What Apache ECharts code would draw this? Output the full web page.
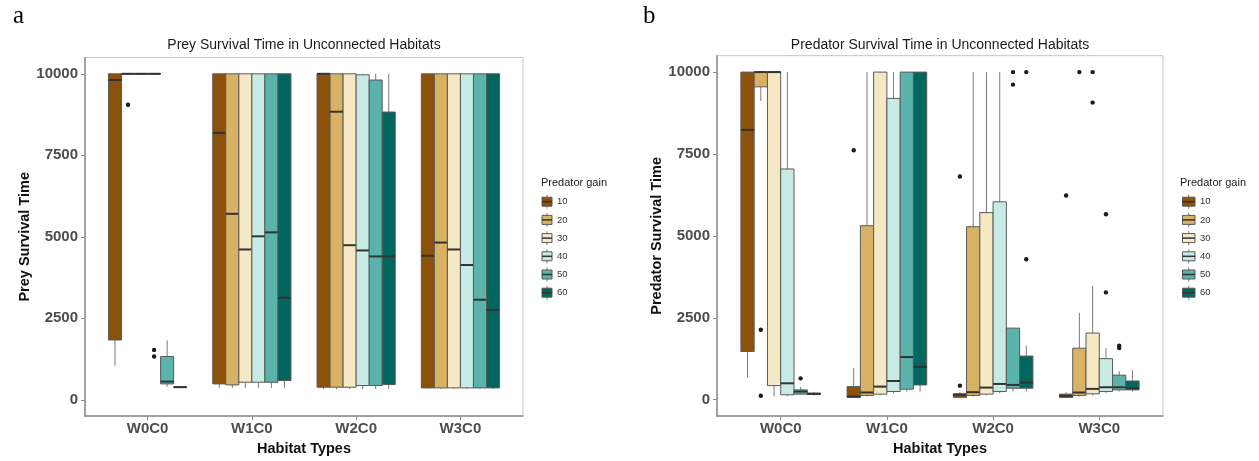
<!DOCTYPE html>
<html>
<head>
<meta charset="utf-8">
<script src="https://cdn.jsdelivr.net/npm/echarts@6/dist/echarts.min.js"></script>
<style>
  html, body { margin: 0; padding: 0; background: #fff; }
  #chart { width: 1259px; height: 461px; }
</style>
</head>
<body>
<div id="chart"></div>
<script>
// Habitat categories and predator-gain groups
const habitats = ['W0C0', 'W1C0', 'W2C0', 'W3C0'];
const gains = ['10', '20', '30', '40', '50', '60'];
const gainColors = ['#8c510a', '#d8b365', '#f6e8c3', '#c7eae5', '#5ab4ac', '#01665e'];
const yTicks = [0, 2500, 5000, 7500, 10000];

// Box statistics, one row per predator gain: [min, q1, median, q3, max]
const preyW0C0 = [
  [1045, 1835, 9809, 10000, 10000],
  [10000, 10000, 10000, 10000, 10000],
  [10000, 10000, 10000, 10000, 10000],
  [10000, 10000, 10000, 10000, 10000],
  [407, 487, 559, 1328, 1824],
  [370, 384, 388, 392, 400]
];
const preyW1C0 = [
  [365, 487, 8188, 10000, 10000],
  [365, 456, 5705, 10000, 10000],
  [365, 538, 4611, 10000, 10000],
  [365, 538, 5015, 10000, 10000],
  [365, 538, 5137, 10000, 10000],
  [365, 590, 3131, 10000, 10000]
];
const preyW2C0 = [
  [330, 386, 10000, 10000, 10000],
  [330, 386, 8836, 10000, 10000],
  [330, 386, 4742, 10000, 10000],
  [330, 437, 4581, 9970, 10000],
  [330, 437, 4398, 9809, 10000],
  [330, 467, 4398, 8827, 10000]
];
const preyW3C0 = [
  [335, 365, 4419, 10000, 10000],
  [335, 365, 4824, 10000, 10000],
  [335, 365, 4611, 10000, 10000],
  [335, 365, 4134, 10000, 10000],
  [335, 365, 3070, 10000, 10000],
  [335, 365, 2757, 10000, 10000]
];
// Outliers: [habitat index, gain index, value]
const preyOutliers = [
  [0, 1, 9050], [0, 3, 1530], [0, 3, 1330]
];

const predW0C0 = [
  [682, 1473, 8236, 10000, 10000],
  [9117, 9549, 10000, 10000, 10000],
  [100, 430, 10000, 10000, 10000],
  [110, 150, 501, 7043, 10000],
  [150, 170, 250, 300, 390],
  [130, 160, 180, 200, 230]
];
const predW1C0 = [
  [60, 70, 100, 400, 972],
  [100, 130, 220, 5310, 10000],
  [130, 170, 400, 10000, 10000],
  [200, 250, 571, 9197, 10000],
  [250, 321, 1302, 10000, 10000],
  [250, 451, 1001, 10000, 10000]
];
const predW2C0 = [
  [60, 70, 150, 180, 230],
  [100, 130, 230, 5280, 10000],
  [130, 170, 370, 5711, 10000],
  [200, 250, 481, 6041, 10000],
  [250, 351, 451, 2185, 2200],
  [250, 351, 521, 1332, 1653]
];
const predW3C0 = [
  [60, 70, 120, 170, 230],
  [100, 130, 220, 1573, 2655],
  [130, 180, 331, 2034, 3477],
  [200, 250, 381, 1253, 1573],
  [250, 300, 381, 751, 872],
  [250, 300, 351, 571, 902]
];
const predOutliers = [
  [0, 1, 2134], [0, 1, 120], [0, 4, 652],
  [1, 0, 7615],
  [2, 0, 6813], [2, 0, 430], [2, 4, 10000], [2, 4, 9618], [2, 5, 10000], [2, 5, 4289],
  [3, 0, 6232], [3, 1, 10000], [3, 2, 10000], [3, 2, 9068], [3, 3, 5660], [3, 3, 3276],
  [3, 4, 1650], [3, 4, 1580]
];

// Flatten per-habitat stats into rows: [habitat, gain, min, q1, median, q3, max]
function boxRows(perHabitat) {
  const rows = [];
  perHabitat.forEach((stats, h) => stats.forEach((s, g) => rows.push([h, g].concat(s))));
  return rows;
}
const preyRows = boxRows([preyW0C0, preyW1C0, preyW2C0, preyW3C0]);
const predRows = boxRows([predW0C0, predW1C0, predW2C0, predW3C0]);

const DODGE = 0.75; // total width of the dodged group, in category units

function slotGeom(api, h, g) {
  const unit = api.size([1, 0])[0];
  const slot = unit * DODGE / gains.length;
  const left = api.coord([h, 0])[0] - unit * DODGE / 2 + slot * g;
  return { left: left, slot: slot, cx: left + slot / 2 };
}

function renderBox(params, api) {
  const h = api.value(0), g = api.value(1);
  const s = slotGeom(api, h, g);
  const y = k => api.coord([h, api.value(k)])[1];
  const yMin = y(2), yQ1 = y(3), yMed = y(4), yQ3 = y(5), yMax = y(6);
  return {
    type: 'group',
    children: [
      { type: 'line', shape: { x1: s.cx, y1: yQ3, x2: s.cx, y2: yMax }, style: { stroke: '#7a7a7a', lineWidth: 1 } },
      { type: 'line', shape: { x1: s.cx, y1: yQ1, x2: s.cx, y2: yMin }, style: { stroke: '#7a7a7a', lineWidth: 1 } },
      { type: 'rect', shape: { x: s.left, y: yQ3, width: s.slot, height: yQ1 - yQ3 },
        style: { fill: gainColors[g], stroke: '#5a5a5a', lineWidth: 1 } },
      { type: 'line', shape: { x1: s.left, y1: yMed, x2: s.left + s.slot, y2: yMed },
        style: { stroke: '#333', lineWidth: 2 } }
    ]
  };
}

function renderOutlier(params, api) {
  const h = api.value(0), g = api.value(1);
  const s = slotGeom(api, h, g);
  const p = api.coord([h, api.value(2)]);
  return { type: 'circle', shape: { cx: s.cx, cy: p[1], r: 2.2 }, style: { fill: '#1a1a1a' } };
}

const tickLabel = { fontFamily: 'Liberation Sans, Arial, sans-serif', fontWeight: 'bold', fontSize: 15, color: '#4d4d4d' };
const axisNameStyle = { fontFamily: 'Liberation Sans, Arial, sans-serif', fontWeight: 'bold', fontSize: 14.5, color: '#111' };

function xAxisFor(gridIndex) {
  return {
    gridIndex: gridIndex, type: 'value', min: -0.6, max: 3.6,
    name: 'Habitat Types', nameLocation: 'middle', nameGap: 22, nameTextStyle: axisNameStyle,
    axisLine: { show: true, onZero: false, lineStyle: { color: '#8c8c8c', width: 1.5 } },
    axisTick: { show: true, length: 4, customValues: [0, 1, 2, 3], lineStyle: { color: '#8c8c8c' } },
    axisLabel: Object.assign({ customValues: [0, 1, 2, 3], margin: 5, formatter: v => habitats[Math.round(v)] }, tickLabel),
    splitLine: { show: false }
  };
}
function yAxisFor(gridIndex, name, gap) {
  return {
    gridIndex: gridIndex, type: 'value', min: -500, max: 10500,
    name: name, nameLocation: 'middle', nameGap: gap, nameTextStyle: axisNameStyle,
    axisLine: { show: true, onZero: false, lineStyle: { color: '#8c8c8c', width: 1.5 } },
    axisTick: { show: true, length: 4, customValues: yTicks, lineStyle: { color: '#8c8c8c' } },
    axisLabel: Object.assign({ customValues: yTicks, margin: 7, formatter: v => String(v) }, tickLabel),
    splitLine: { show: false }
  };
}

// Legend keys drawn as small boxplot glyphs
function legendGraphics(x0, boxW, titleX) {
  const items = [{
    type: 'text', left: titleX, top: 177,
    style: { text: 'Predator gain', fontFamily: 'Liberation Sans, Arial, sans-serif', fontSize: 11, fill: '#1a1a1a' }
  }];
  gains.forEach((gLabel, i) => {
    const cy = 201.7 + i * 18.2;
    const cx = x0 + boxW / 2;
    items.push({ type: 'line', shape: { x1: cx, y1: cy - 7, x2: cx, y2: cy + 7 }, style: { stroke: '#7a7a7a', lineWidth: 1 } });
    items.push({ type: 'rect', shape: { x: x0, y: cy - 4.5, width: boxW, height: 9 }, style: { fill: gainColors[i], stroke: '#5a5a5a', lineWidth: 1 } });
    items.push({ type: 'line', shape: { x1: x0, y1: cy, x2: x0 + boxW, y2: cy }, style: { stroke: '#333', lineWidth: 1.5 } });
    items.push({ type: 'text', x: x0 + boxW + 5, y: cy, style: { text: gLabel, fontFamily: 'Liberation Sans, Arial, sans-serif', fontSize: 9.5, fill: '#333', verticalAlign: 'middle' } });
  });
  return items;
}

const chart = echarts.init(document.getElementById('chart'), null, { renderer: 'canvas' });
chart.setOption({
  animation: false,
  backgroundColor: '#fff',
  grid: [
    { left: 85, top: 57.5, width: 438, height: 362, show: true, borderColor: '#c4c4c4', borderWidth: 1, backgroundColor: '#fff' },
    { left: 717, top: 55.7, width: 446, height: 366, show: true, borderColor: '#c4c4c4', borderWidth: 1, backgroundColor: '#fff' }
  ],
  xAxis: [xAxisFor(0), xAxisFor(1)],
  yAxis: [yAxisFor(0, 'Prey Survival Time', 40), yAxisFor(1, 'Predator Survival Time', 52)],
  series: [
    { type: 'custom', xAxisIndex: 0, yAxisIndex: 0, renderItem: renderBox, data: preyRows, encode: { x: 0, y: [2, 3, 4, 5, 6] } },
    { type: 'custom', xAxisIndex: 0, yAxisIndex: 0, renderItem: renderOutlier, data: preyOutliers, encode: { x: 0, y: 2 } },
    { type: 'custom', xAxisIndex: 1, yAxisIndex: 1, renderItem: renderBox, data: predRows, encode: { x: 0, y: [2, 3, 4, 5, 6] } },
    { type: 'custom', xAxisIndex: 1, yAxisIndex: 1, renderItem: renderOutlier, data: predOutliers, encode: { x: 0, y: 2 } }
  ],
  graphic: [
    { type: 'text', left: 13, top: 4, style: { text: 'a', fontFamily: 'Liberation Serif, Times New Roman, serif', fontSize: 25, fill: '#000' } },
    { type: 'text', left: 643, top: 4, style: { text: 'b', fontFamily: 'Liberation Serif, Times New Roman, serif', fontSize: 25, fill: '#000' } },
    { type: 'text', x: 304, y: 45, style: { text: 'Prey Survival Time in Unconnected Habitats', fontFamily: 'Liberation Sans, Arial, sans-serif', fontSize: 14, fill: '#1a1a1a', align: 'center', verticalAlign: 'middle' } },
    { type: 'text', x: 940, y: 45, style: { text: 'Predator Survival Time in Unconnected Habitats', fontFamily: 'Liberation Sans, Arial, sans-serif', fontSize: 14, fill: '#1a1a1a', align: 'center', verticalAlign: 'middle' } }
  ].concat(legendGraphics(542, 10, 541), legendGraphics(1182.5, 12.5, 1180))
});
</script>
</body>
</html>
